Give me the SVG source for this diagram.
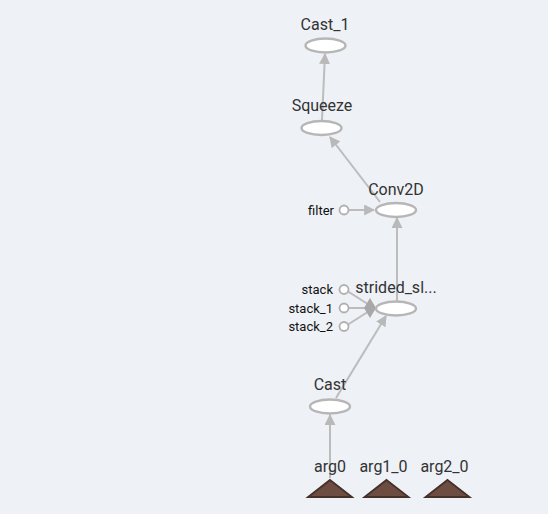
<svg xmlns="http://www.w3.org/2000/svg" width="548" height="514" viewBox="0 0 548 514">
<defs>
<marker id="arr" viewBox="0 0 10 10" refX="9" refY="5" markerWidth="11" markerHeight="11" orient="auto" markerUnits="userSpaceOnUse">
<path d="M0,0 L10,5 L0,10 z" fill="#b9b9b9"/>
</marker>
<style>
.op{fill:#fff;stroke:#b6b6b6;stroke-width:2.4}
.lbl{font-family:Roboto,"Liberation Sans",sans-serif;font-size:16px;fill:#333;text-anchor:middle}
.sm{font-family:Roboto,"Liberation Sans",sans-serif;font-size:13px;fill:#111;text-anchor:end}
.c{fill:#fff;stroke:#b0b0b0;stroke-width:1.8}
.e{fill:none;stroke:#bcbcbc;stroke-width:2}
.arg{fill:#6d4c41;stroke:#45302a;stroke-width:1.8}
</style>
</defs>
<rect width="548" height="514" fill="#eef1f6"/>
<g id="connectors">
<line class="e" x1="322" y1="120" x2="325" y2="54" marker-end="url(#arr)"/>
<line class="e" x1="380" y1="202" x2="330" y2="137" marker-end="url(#arr)"/>
<line class="e" x1="397" y1="301" x2="397" y2="218" marker-end="url(#arr)"/>
<line class="e" x1="348.5" y1="210" x2="374" y2="210" marker-end="url(#arr)"/>
<line class="e" x1="348" y1="291.5" x2="374" y2="308"/>
<line class="e" x1="349" y1="308" x2="374" y2="308"/>
<line class="e" x1="348" y1="324.5" x2="374" y2="308"/>
<path d="M370,298 L376,308 L370,318 L364,308 z" fill="#a8a8a8"/>
<line class="e" x1="336" y1="398" x2="386" y2="316" marker-end="url(#arr)"/>
<line class="e" x1="330" y1="478" x2="330" y2="415" marker-end="url(#arr)"/>
</g>
<g id="Cast_1">
<text class="lbl" x="325" y="30">Cast_1</text>
<ellipse class="op" cx="325.5" cy="45.5" rx="20" ry="7"/>
</g>
<g id="Squeeze">
<text class="lbl" x="322" y="111">Squeeze</text>
<ellipse class="op" cx="321.5" cy="128" rx="20" ry="7"/>
</g>
<g id="Conv2D">
<text class="lbl" x="396" y="195">Conv2D</text>
<ellipse class="op" cx="396" cy="210" rx="20" ry="7"/>
</g>
<g id="filter">
<text class="sm" x="334" y="214.5">filter</text>
<circle class="c" cx="344" cy="210" r="4.5"/>
</g>
<g id="strided_slice">
<text class="lbl" x="396" y="293">strided_sl...</text>
<ellipse class="op" cx="396" cy="308.5" rx="20" ry="7"/>
</g>
<g id="stack">
<text class="sm" x="333" y="294">stack</text>
<circle class="c" cx="344" cy="289.5" r="4.5"/>
</g>
<g id="stack_1">
<text class="sm" x="333" y="312.5">stack_1</text>
<circle class="c" cx="344" cy="308" r="4.5"/>
</g>
<g id="stack_2">
<text class="sm" x="333" y="331">stack_2</text>
<circle class="c" cx="344" cy="326.5" r="4.5"/>
</g>
<g id="Cast">
<text class="lbl" x="330" y="390">Cast</text>
<ellipse class="op" cx="330" cy="406.5" rx="20" ry="7"/>
</g>
<g id="arg0">
<text class="lbl" x="330" y="472">arg0</text>
<polygon class="arg" points="330,480 352,497 308,497"/>
</g>
<g id="arg1_0">
<text class="lbl" x="383.5" y="472">arg1_0</text>
<polygon class="arg" points="386.5,480 408.5,497 364.5,497"/>
</g>
<g id="arg2_0">
<text class="lbl" x="444.5" y="472">arg2_0</text>
<polygon class="arg" points="447.5,480 469.5,497 425.5,497"/>
</g>
</svg>
